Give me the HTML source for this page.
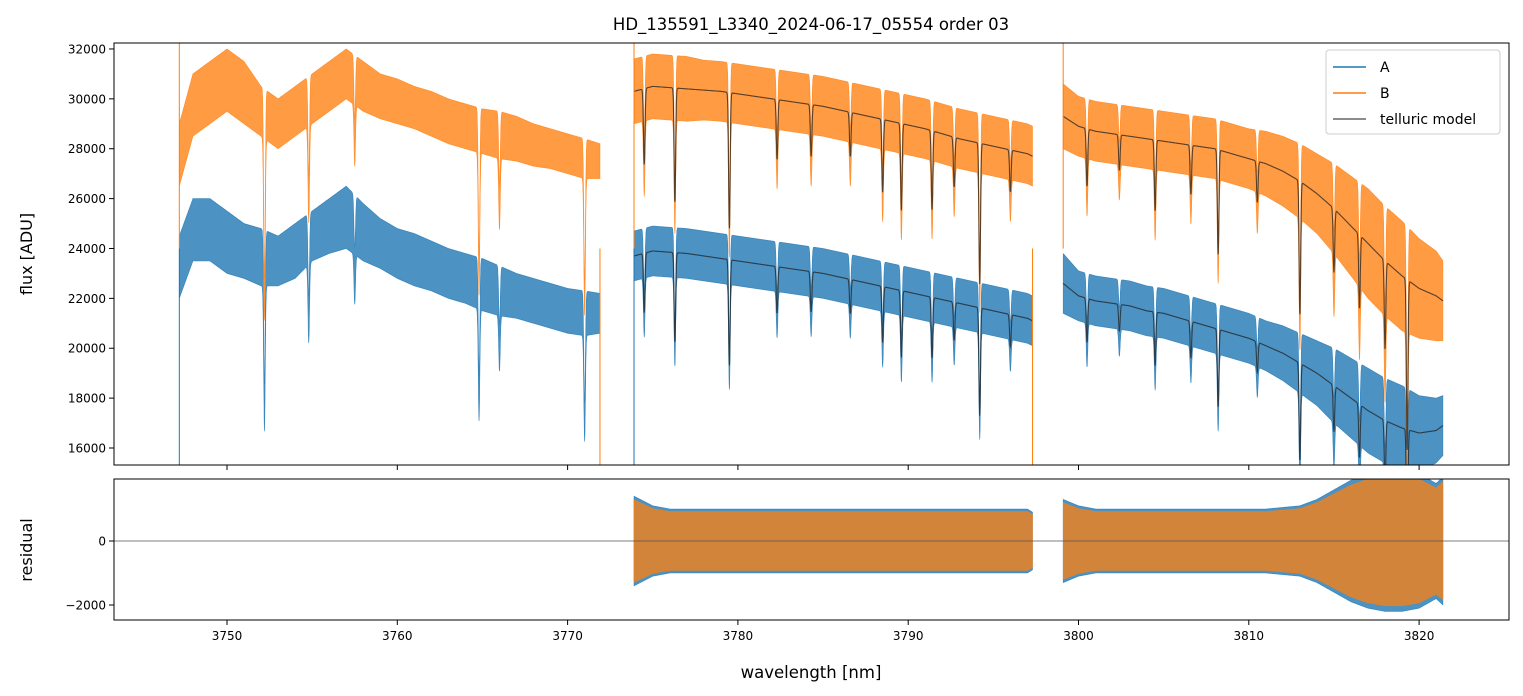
<!DOCTYPE html>
<html><head><meta charset="utf-8"><style>
body{margin:0;background:#fff;}
svg{display:block;font-family:"DejaVu Sans","Liberation Sans",sans-serif;}
</style></head><body>
<svg id="fig" width="1523" height="696" xmlns="http://www.w3.org/2000/svg">
<defs>
<clipPath id="c1"><rect x="114" y="43" width="1395" height="422"/></clipPath>
<clipPath id="c2"><rect x="114" y="479" width="1395" height="141"/></clipPath>
</defs>
<rect width="1523" height="696" fill="#fff"/>
<text x="811" y="30" text-anchor="middle" font-size="16.5">HD_135591_L3340_2024-06-17_05554  order 03</text>
<g id="topg" clip-path="url(#c1)"></g>
<g id="botg" clip-path="url(#c2)"></g>
<g id="axes"></g>
<text x="32" y="254" text-anchor="middle" font-size="16" transform="rotate(-90 32 254)">flux [ADU]</text>
<text x="32" y="550" text-anchor="middle" font-size="16" transform="rotate(-90 32 550)">residual</text>
<text x="811" y="678" text-anchor="middle" font-size="16.5">wavelength [nm]</text>
<g>
<rect x="1326" y="50" width="174" height="84" rx="3" fill="#fff" fill-opacity="0.8" stroke="#ccc"/>
<line x1="1333" y1="67" x2="1366" y2="67" stroke="#1f77b4" stroke-width="1.5"/>
<text x="1380" y="72" font-size="14">A</text>
<line x1="1333" y1="93" x2="1366" y2="93" stroke="#ff7f0e" stroke-width="1.5"/>
<text x="1380" y="98" font-size="14">B</text>
<line x1="1333" y1="119" x2="1366" y2="119" stroke="#666" stroke-width="1.5"/>
<text x="1380" y="124" font-size="14">telluric model</text>
</g>
</svg>
<script>
const NS="http://www.w3.org/2000/svg";
// segment wavelengths
const wl1=[3747.2,3748,3749,3750,3751,3752,3753,3754,3755,3756,3757,3758,3759,3760,3761,3762,3763,3764,3765,3766,3767,3768,3769,3770,3771,3771.9];
const wl2=[3773.9,3775,3776,3777,3778,3779,3780,3781,3782,3783,3784,3785,3786,3787,3788,3789,3790,3791,3792,3793,3794,3795,3796,3797,3797.3];
const wl3=[3799.1,3800,3801,3802,3803,3804,3805,3806,3807,3808,3809,3810,3811,3812,3813,3814,3815,3816,3817,3818,3819,3820,3821,3821.4];
// flux series (band center + half-width)
const bMid1=[27750,29750,30250,30750,30250,29500,29000,29500,30000,30500,31000,30500,30100,29900,29650,29400,29100,28900,28700,28550,28400,28150,28000,27800,27600,27500];
const bHalf1=[1250,1250,1250,1250,1250,1000,1000,1000,1000,1000,1000,1000,900,900,850,900,900,900,900,950,900,850,800,800,800,700];
const aMid1=[23250,24750,24750,24250,23900,23650,23500,23900,24500,24900,25250,24650,24200,23800,23550,23300,23000,22800,22550,22300,22100,21900,21700,21500,21400,21400];
const aHalf1=[1250,1250,1250,1250,1100,1150,1000,1100,1000,1100,1250,1150,1000,1000,1050,1000,1000,1000,1050,1000,900,900,900,900,900,800];
const bModel2=[30300,30500,30450,30400,30350,30300,30200,30100,30000,29900,29800,29700,29550,29400,29250,29100,28950,28800,28600,28400,28250,28100,27950,27800,27700];
const aModel2=[23700,23900,23850,23800,23700,23600,23500,23400,23300,23200,23100,23000,22850,22700,22550,22400,22250,22100,21950,21800,21650,21500,21350,21200,21100];
const bModel3=[29300,28900,28700,28600,28500,28400,28300,28200,28100,28000,27800,27600,27400,27100,26700,26200,25600,24900,24200,23500,22900,22400,22100,21900];
const aModel3=[22600,22100,21900,21800,21700,21500,21400,21200,21000,20800,20600,20400,20100,19800,19400,19000,18500,18000,17500,17100,16800,16600,16700,16900];
const bHalf2=[1300,1300,1300,1300,1200,1200,1200,1200,1200,1200,1200,1200,1200,1200,1200,1200,1200,1200,1200,1200,1200,1200,1200,1200,1200];
const aHalf2=[1000,1000,1000,1000,1000,1000,1000,1000,1000,1000,1000,1000,1000,1000,1000,1000,1000,1000,1000,1000,1000,1000,1000,1000,1000];
const bHalf3=[1300,1200,1200,1200,1200,1200,1200,1200,1200,1200,1200,1200,1300,1400,1500,1600,1800,2000,2200,2200,2200,2000,1800,1600];
const aHalf3=[1200,1000,1000,1000,1000,1000,1000,1000,1000,1000,1000,1000,1000,1100,1200,1300,1500,1600,1700,1700,1700,1500,1300,1200];
// absorption lines (wavelength, fractional depth)
const dipWl=[3752.2,3754.8,3757.5,3764.8,3766,3771,3774.5,3776.3,3779.5,3782.3,3784.3,3786.6,3788.5,3789.6,3791.4,3792.7,3794.2,3796,3800.5,3802.4,3804.5,3806.6,3808.2,3810.5,3813,3815,3816.5,3818,3819.3];
const dipDepth=[0.25,0.13,0.08,0.2,0.1,0.2,0.1,0.15,0.18,0.08,0.07,0.06,0.1,0.12,0.11,0.07,0.2,0.06,0.08,0.05,0.1,0.07,0.15,0.06,0.2,0.1,0.12,0.15,0.3];
// residual half-widths
const rHalf2=[1400,1100,1000,1000,1000,1000,1000,1000,1000,1000,1000,1000,1000,1000,1000,1000,1000,1000,1000,1000,1000,1000,1000,1000,900];
const rHalf3=[1300,1100,1000,1000,1000,1000,1000,1000,1000,1000,1000,1000,1000,1050,1100,1300,1600,1900,2100,2200,2200,2100,1800,2000];
const xTicks=[3750,3760,3770,3780,3790,3800,3810,3820];
const yTicks=[16000,18000,20000,22000,24000,26000,28000,30000,32000];
const rTicks=[-2000,0];

const X=w=>227+(w-3750)*17.03;
const Y=v=>448-(v-16000)*0.02494;
const R=v=>541-v*0.032;
function el(t,a,p){const e=document.createElementNS(NS,t);for(const k in a)e.setAttribute(k,a[k]);p.appendChild(e);return e;}
function interp(ws,vs,w){for(let i=0;i<ws.length-1;i++){if(w>=ws[i]&&w<=ws[i+1]){const f=(w-ws[i])/(ws[i+1]-ws[i]);return vs[i]+f*(vs[i+1]-vs[i]);}}return vs[vs.length-1];}
function dip(w){let f=1;for(let i=0;i<dipWl.length;i++){const d=(w-dipWl[i])/0.045;f*=1-dipDepth[i]*Math.exp(-d*d/2);}return f;}
const topG=document.getElementById('topg'),botG=document.getElementById('botg'),axG=document.getElementById('axes');
function band(ws,mid,half,col,op,name,Yf,useDip,parent){
  const up=[],lo=[];
  for(let w=ws[0];w<=ws[ws.length-1]+1e-9;w+=0.01){const m=interp(ws,mid,w),h=interp(ws,half,w),f=useDip?dip(w):1;up.push(X(w).toFixed(1)+','+Yf(m*f+h*f).toFixed(1));lo.push(X(w).toFixed(1)+','+Yf(m*f-h*(useDip?(2-f)*f:1)).toFixed(1));}
  const p=el('polygon',{points:up.concat(lo.reverse()).join(' '),fill:col,'fill-opacity':op,stroke:col,'stroke-width':0.6,'stroke-opacity':op},parent);
  
  
}
function line(ws,vals,name){
  const pts=[];for(let w=ws[0];w<=ws[ws.length-1]+1e-9;w+=0.01){pts.push(X(w).toFixed(1)+','+Y(interp(ws,vals,w)*dip(w)).toFixed(1));}
  const p=el('polyline',{points:pts.join(' '),fill:'none',stroke:'#222','stroke-opacity':0.75,'stroke-width':1.1},topG);
  
  
}
band(wl1,bMid1,bHalf1,'#ff7f0e',0.78,'series-b-seg1',Y,true,topG);
band(wl2,bModel2,bHalf2,'#ff7f0e',0.78,'series-b-seg2',Y,true,topG);
band(wl3,bModel3,bHalf3,'#ff7f0e',0.78,'series-b-seg3',Y,true,topG);
band(wl1,aMid1,aHalf1,'#1f77b4',0.8,'series-a-seg1',Y,true,topG);
band(wl2,aModel2,aHalf2,'#1f77b4',0.8,'series-a-seg2',Y,true,topG);
band(wl3,aModel3,aHalf3,'#1f77b4',0.8,'series-a-seg3',Y,true,topG);
line(wl2,bModel2,'telluric-model-b-seg2');line(wl3,bModel3,'telluric-model-b-seg3');
line(wl2,aModel2,'telluric-model-a-seg2');line(wl3,aModel3,'telluric-model-a-seg3');
// segment edge spikes
[[wl1[0],'#1f77b4',465],[wl1[0],'#ff7f0e',43],[wl1[wl1.length-1],'#ff7f0e',465],[wl2[0],'#ff7f0e',43],[wl2[0],'#1f77b4',465],[wl2[wl2.length-1],'#ff7f0e',465],[wl3[0],'#ff7f0e',43]].forEach(s=>{
  const l=el('line',{x1:X(s[0]),x2:X(s[0]),y1:Y(24000),y2:s[2],stroke:s[1],'stroke-width':1},topG);
  
  
});
// residuals
const rz1=wl2.map(()=>0),rz2=wl3.map(()=>0);
band(wl2,rz1,rHalf2,'#1f77b4',0.8,'residual-a-seg2',R,false,botG);
band(wl3,rz2,rHalf3,'#1f77b4',0.8,'residual-a-seg3',R,false,botG);
band(wl2,rz1,rHalf2.map(h=>h*0.92),'#ff7f0e',0.75,'residual-b-seg2',R,false,botG);
band(wl3,rz2,rHalf3.map(h=>h*0.92),'#ff7f0e',0.75,'residual-b-seg3',R,false,botG);
const zl=el('line',{x1:114,x2:1509,y1:R(0),y2:R(0),stroke:'#555','stroke-width':0.7},botG);


// frames
[[43,422,'flux-axes-frame'],[479,141,'residual-axes-frame']].forEach(f=>{const r=el('rect',{x:114,y:f[0],width:1395,height:f[1],fill:'none',stroke:'#000','stroke-width':1},axG);});
xTicks.forEach(t=>{
  const a=el('line',{x1:X(t),x2:X(t),y1:465,y2:470,stroke:'#000'},axG);
  const b=el('line',{x1:X(t),x2:X(t),y1:620,y2:625,stroke:'#000'},axG);
  const tx=el('text',{x:X(t),y:640,'text-anchor':'middle','font-size':12},axG);tx.textContent=t;
});
yTicks.forEach(t=>{
  const a=el('line',{x1:109,x2:114,y1:Y(t),y2:Y(t),stroke:'#000'},axG);
  const tx=el('text',{x:106,y:Y(t)+4.5,'text-anchor':'end','font-size':12},axG);tx.textContent=t;
});
rTicks.forEach(t=>{
  const a=el('line',{x1:109,x2:114,y1:R(t),y2:R(t),stroke:'#000'},axG);
  const tx=el('text',{x:106,y:R(t)+4.5,'text-anchor':'end','font-size':12},axG);tx.textContent=t===0?'0':'\u22122000';
});
</script>
</body></html>
